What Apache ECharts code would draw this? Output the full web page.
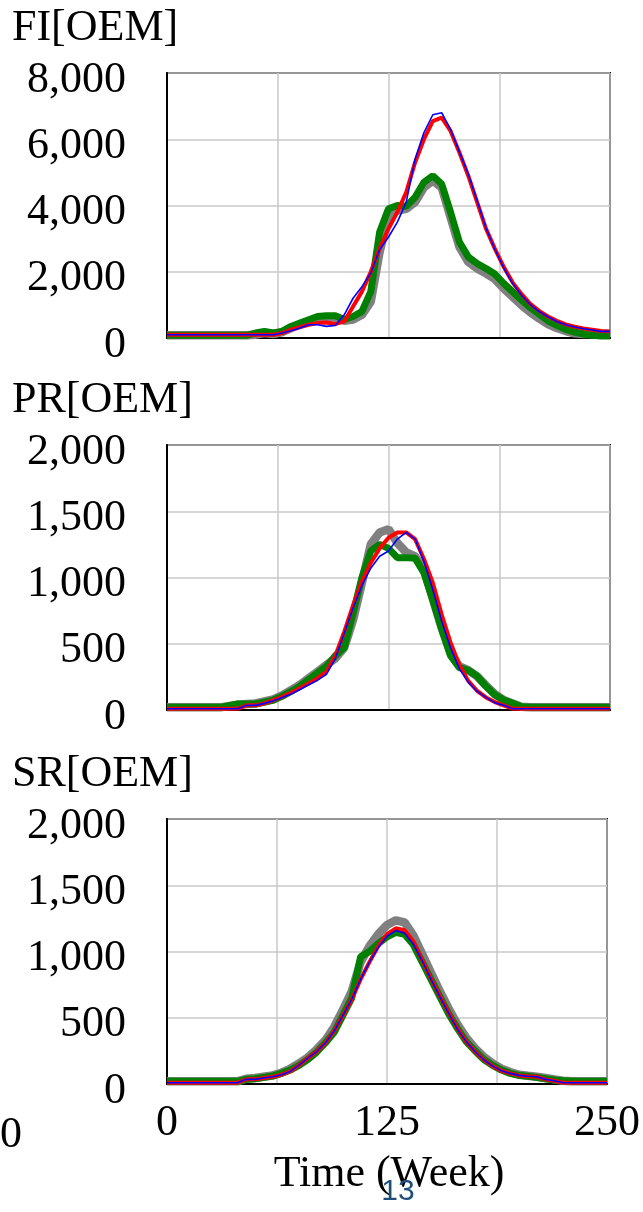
<!DOCTYPE html>
<html><head><meta charset="utf-8">
<script src="https://cdn.jsdelivr.net/npm/echarts@6/dist/echarts.min.js"></script>
<style>html,body{margin:0;padding:0;background:#fff}#c{width:643px;height:1212px}</style>
</head><body><div id="c"></div>
<script>
// time in weeks
const weeks = [0,10,20,30,40,45,50,55,60,65,70,75,80,85,90,95,100,105,110,115,120,125,130,135,140,145,150,155,160,165,170,175,180,185,190,195,200,205,210,215,220,225,230,235,240,245,250];

const panelTitles = ['FI[OEM]','PR[OEM]','SR[OEM]'];
const yMaxes = [8000, 2000, 2000];
const yIntervals = [2000, 500, 500];
const xTickValues = [0, 125, 250];
const xTickLabels = ['0','125','250'];
const xAxisTitle = 'Time (Week)';

// FI[OEM]
const fiGray  = [80,80,80,80,80,80,100,150,120,180,300,400,500,600,620,620,520,560,700,1100,2600,3700,3850,3900,4100,4550,4750,4550,3650,2750,2300,2100,1950,1780,1500,1250,1000,780,590,420,300,210,140,120,120,120,120];
const fiGreen = [80,80,80,80,80,80,150,200,150,200,350,450,550,650,670,670,560,650,800,1400,3200,3900,4000,3980,4250,4700,4900,4650,3800,2900,2450,2250,2100,1930,1650,1400,1150,920,720,520,380,260,180,120,80,60,60];
const fiRed   = [100,100,100,100,100,100,100,100,100,150,250,330,400,450,470,420,500,950,1400,2000,2700,3300,3800,4400,5300,6000,6550,6650,6250,5600,4900,4100,3300,2700,2150,1680,1330,1030,820,650,520,410,340,290,250,210,200];
const fiBlue  = [100,100,100,100,100,100,100,100,100,150,220,300,400,400,350,380,700,1200,1550,1960,2670,3050,3500,4100,5400,6200,6740,6800,6300,5620,4950,4150,3320,2680,2120,1650,1300,1010,800,640,500,400,330,280,240,200,200];

// PR[OEM]
const prGray  = [20,20,20,20,40,45,50,65,80,110,150,190,240,290,340,390,470,680,960,1250,1340,1365,1260,1190,1160,1060,840,620,430,330,300,255,185,120,75,50,25,20,20,20,20,20,20,20,20,20,20];
const prGreen = [20,20,20,20,45,45,45,60,75,105,140,180,230,280,330,410,470,730,1000,1200,1250,1220,1150,1150,1145,1035,830,610,410,320,300,255,180,115,75,50,25,20,20,20,20,20,20,20,20,20,20];
const prRed   = [10,10,10,10,10,35,35,50,75,100,130,165,200,240,290,410,590,790,970,1110,1220,1300,1340,1340,1290,1140,960,720,510,340,220,145,95,60,35,10,10,10,10,10,10,10,10,10,10,10,10];
const prBlue  = [10,10,10,10,10,35,35,50,70,95,120,155,190,225,270,390,580,770,940,1070,1160,1200,1290,1340,1290,1120,910,670,470,310,210,140,95,55,35,10,10,10,10,10,10,10,10,10,10,10,10];

// SR[OEM]
const srGray  = [20,20,20,20,20,40,45,55,65,85,115,155,200,260,330,430,560,700,920,1040,1130,1200,1235,1220,1120,980,840,700,570,450,350,270,205,155,115,90,70,62,55,45,35,25,20,20,20,20,20];
const srGreen = [20,20,20,20,20,35,40,50,60,80,105,140,185,240,310,390,520,650,960,1000,1060,1110,1145,1130,1050,920,790,660,530,420,320,250,185,140,105,80,65,58,50,40,30,25,20,20,20,20,20];
const srRed   = [10,10,10,10,10,35,35,45,55,70,95,143,195,245,310,400,520,640,790,920,1040,1130,1175,1160,1075,935,795,665,540,420,320,245,183,135,100,80,65,58,55,35,25,10,10,10,10,10,10];
const srBlue  = [10,10,10,10,10,35,35,45,55,70,95,143,195,245,310,400,520,640,790,920,1030,1115,1158,1137,1055,930,790,660,535,415,320,245,183,135,100,80,65,58,55,35,25,10,10,10,10,10,10];

const panelData = [
  [fiGray, fiGreen, fiRed, fiBlue],
  [prGray, prGreen, prRed, prBlue],
  [srGray, srGreen, srRed, srBlue]
];
const seriesColors = ['#808080','#008000','#ff0000','#0000ff'];
const seriesWidths = [8.5, 7, 4, 1.6];

const gridTops = [73, 445, 819];
const gridH = 265;
const serif = '"Liberation Serif","Times New Roman",serif';
const FS = 44;

const grids = [], xAxes = [], yAxes = [], series = [], graphics = [];
gridTops.forEach((top, i) => {
  grids.push({left:167, top:top, width:443, height:gridH, show:true, borderColor:'#000', borderWidth:2, backgroundColor:'transparent'});
  xAxes.push({
    type:'value', gridIndex:i, min:0, max:250, interval:62.5,
    axisLine:{show:true, onZero:false, lineStyle:{color:'#000', width:2}},
    axisTick:{show:false},
    splitLine:{show:true, lineStyle:{color:'#c8c8c8', width:1.5}},
    axisLabel:{show:i===2, fontFamily:serif, fontSize:FS, color:'#000', margin:17,
      formatter:(v)=> { const k = xTickValues.indexOf(v); return k >= 0 ? xTickLabels[k] : ''; }}
  });
  yAxes.push({
    type:'value', gridIndex:i, min:0, max:yMaxes[i], interval:yIntervals[i],
    axisLine:{show:true, lineStyle:{color:'#000', width:2}},
    axisTick:{show:false},
    splitLine:{show:true, lineStyle:{color:'#c8c8c8', width:1.5}},
    axisLabel:{fontFamily:serif, fontSize:FS, color:'#000', margin:41,
      formatter:(v)=> '{v|' + v.toLocaleString('en-US') + '}',
      rich:{v:{fontFamily:serif, fontSize:FS, color:'#000', padding:[14,0,0,0]}}}
  });
  panelData[i].forEach((vals, k) => {
    series.push({
      type:'line', xAxisIndex:i, yAxisIndex:i, showSymbol:false, symbol:'none',
      data: weeks.map((w, j) => [w, vals[j]]),
      lineStyle:{color:seriesColors[k], width:seriesWidths[k]},
      itemStyle:{color:seriesColors[k]},
      z: 2 + k, animation:false, silent:true
    });
  });
  graphics.push({type:'text', left:12, top:top - 67, style:{text:panelTitles[i], font:FS + 'px ' + serif, fill:'#000'}});
});
graphics.push({type:'text', x:389, y:1174, style:{text:xAxisTitle, font:FS + 'px ' + serif, fill:'#000', align:'center', verticalAlign:'middle'}});
graphics.push({type:'text', x:0, y:1135, style:{text:'0', font:FS + 'px ' + serif, fill:'#000', align:'left', verticalAlign:'middle'}});
graphics.push({type:'text', x:398, y:1192, z:100, style:{text:'13', font:'30px "Liberation Sans",Arial,sans-serif', fill:'#1f4e79', align:'center', verticalAlign:'middle'}});

const chart = echarts.init(document.getElementById('c'), null, {renderer:'canvas'});
chart.setOption({animation:false, grid:grids, xAxis:xAxes, yAxis:yAxes, series:series, graphic:graphics});
</script>
</body></html>
